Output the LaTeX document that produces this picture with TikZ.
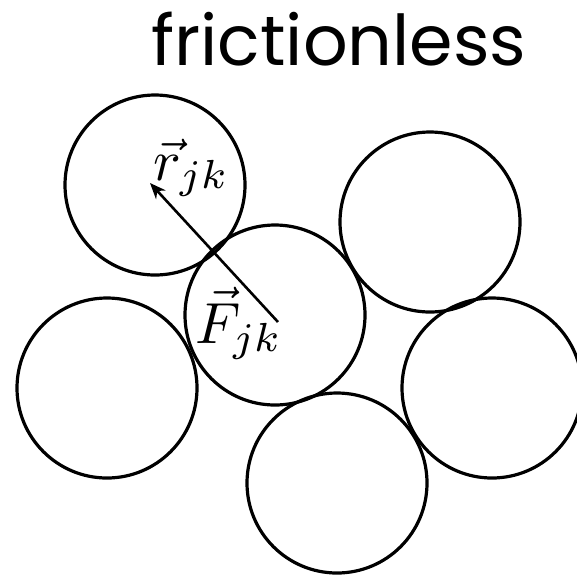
\documentclass[tikz,border=0pt]{standalone}
\usepackage{amsmath,amssymb}
\usepackage{fontspec}
\usepackage{tikz}
\usetikzlibrary{positioning, arrows.meta, calc}
\newfontfamily\titlefont{Poppins}
\tikzset{
  grain/.style={
    circle, draw=black, line width=3.2pt, minimum size=180pt,
    inner sep=0pt, fill=none
  },
  vecarrow/.style={draw, line width=2.6pt, -{Stealth[length=16pt, width=13pt]}},
  vlabel/.style={inner sep=0pt, anchor=base west},
  title/.style={inner sep=0pt, anchor=base, font=\titlefont\fontsize{70}{74}\selectfont},
}
\begin{document}
\begin{tikzpicture}[x=1pt, y=-1pt]
  \useasboundingbox (0,0) rectangle (577,574);
  \node[title] (head) at (339,65) {frictionless};

  % grains
  \node[grain] (G1) at (155,185) {};
  \node[grain] (G2) at (275,315) {};
  \node[grain] (G3) at (430,222) {};
  \node[grain] (G4) at (107,388) {};
  \node[grain] (G5) at (492,388) {};
  \node[grain] (G6) at (337,483) {};

  \coordinate (ftail) at (278,322);
  \coordinate (rtip) at (150,183);
  \draw[vecarrow] (ftail) -- (rtip);

  \node[vlabel] (rjk) at (153,180) {\scalebox{5.8}{$\vec{r}_{jk}$}};
  \node[vlabel] (Fjk) at (195,343) {\scalebox{5.8}{$\vec{F}_{jk}$}};
\end{tikzpicture}
\end{document}
